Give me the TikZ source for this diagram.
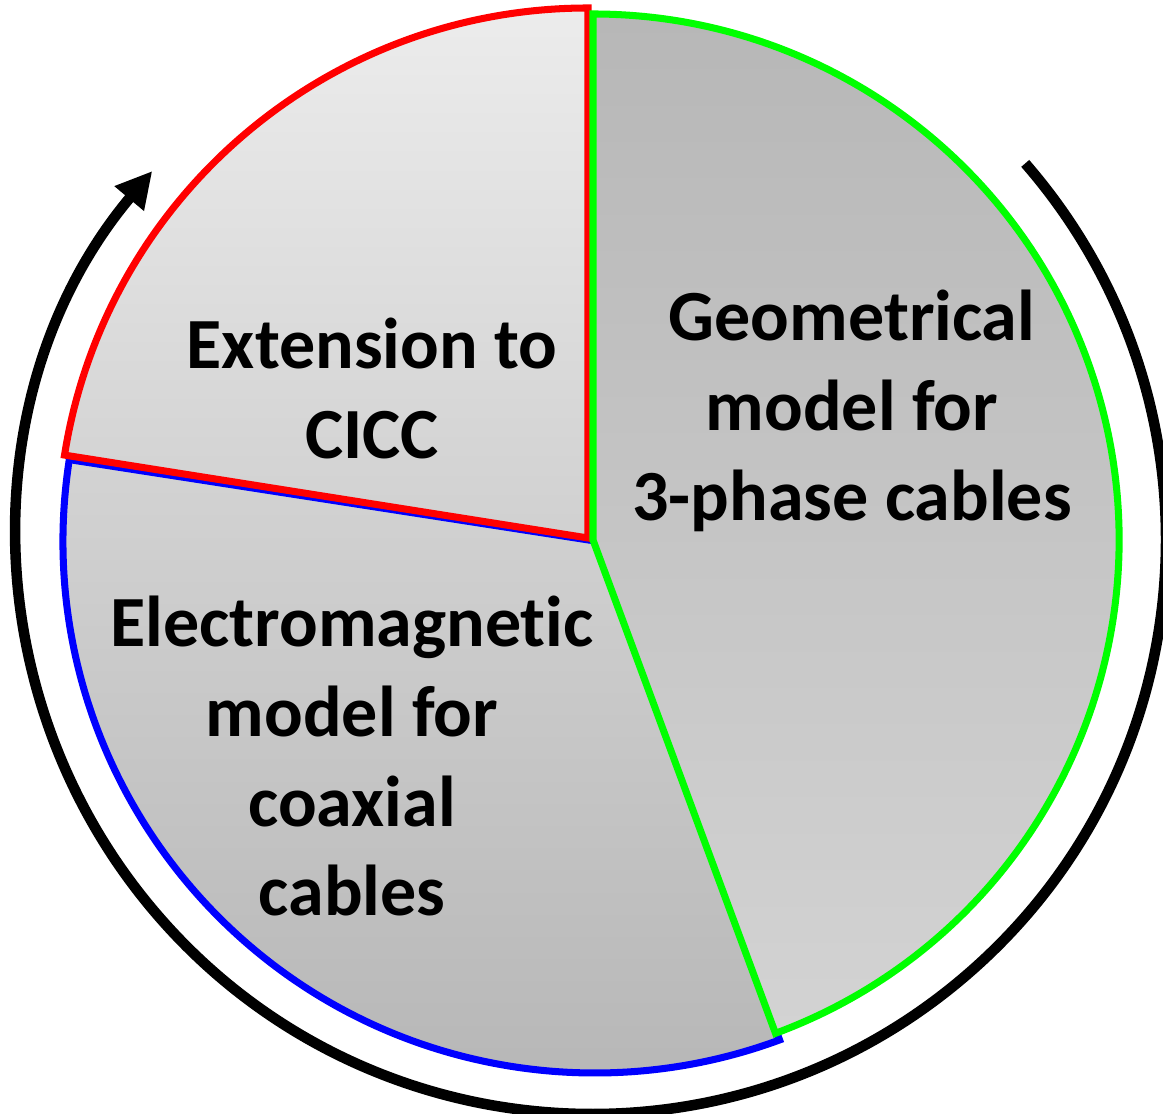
\documentclass[tikz,border=0pt]{standalone}
\usepackage{fontspec}
\setmainfont{Carlito}[Ligatures=NoCommon]
\usetikzlibrary{
  arrows.meta,
  positioning,
  calc
}
\definecolor{pieRed}{HTML}{FF0000}
\definecolor{pieGreen}{HTML}{00FF00}
\definecolor{pieBlue}{HTML}{0000FF}
\definecolor{pieLight}{HTML}{ECECEC}
\definecolor{pieMid}{HTML}{D3D3D3}
\definecolor{pieDark}{HTML}{B7B7B7}
\tikzset{
  slice/.style={line width=2pt, line join=miter},
  redslice/.style={slice, draw=pieRed, top color=pieLight, bottom color=pieMid!90!pieDark},
  greenslice/.style={slice, draw=pieGreen, top color=pieDark, bottom color=pieMid},
  blueslice/.style={slice, draw=pieBlue, top color=pieMid, bottom color=pieDark},
  slicetext/.style={font=\fontsize{20.5}{25.6}\selectfont\bfseries, align=center, text=black},
  cyclearc/.style={line width=3pt, -{Triangle[length=3.6mm, width=3.6mm]}}
}

\begin{document}
\begin{tikzpicture}[x=0.1mm, y=0.1mm]
  \useasboundingbox (0,0) rectangle (1163,1113);
  % slice centres (slightly exploded)
  \coordinate (rc) at (588,575);
  \coordinate (gc) at (593,573);
  \coordinate (bc) at (595,572);
  \coordinate (oc) at (592,573);
  % slices
  \path[blueslice] (bc) -- ++(171.2:532) arc[start angle=171.2, end angle=290.3, radius=532] -- cycle;
  \path[redslice] (rc) -- ++(90:530) arc[start angle=90, end angle=171, radius=530] -- cycle;
  \path[greenslice] (gc) -- ++(-69.7:526) arc[start angle=-69.7, end angle=90, radius=526] -- cycle;
  % labels
  \node[slicetext] (ext) at (372,725) {Extension to\\CICC};
  \node[slicetext] (geo) at (852,702) {Geometrical\\model for\\3-phase cables};
  \node[slicetext] (emc) at (352,357) {Electromagnetic\\model for\\coaxial\\cables};
  % outer cycle arrow
  \draw[cyclearc] ($(oc)+(41:574)$) arc[start angle=41, end angle=-220, radius=574];
\end{tikzpicture}
\end{document}
